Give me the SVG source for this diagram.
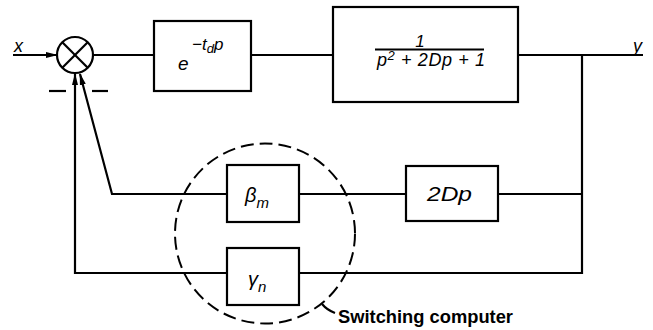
<svg xmlns="http://www.w3.org/2000/svg" width="653" height="330" viewBox="0 0 653 330">
<style>
.b{fill:none;stroke:#000;stroke-width:2.2}
.l{fill:none;stroke:#000;stroke-width:2.2}
.t{font-family:"Liberation Sans",Arial,sans-serif;font-style:italic;fill:#000}
.s{font-family:"Liberation Sans",Arial,sans-serif;font-weight:bold;fill:#000}
</style>
<defs>
<marker id="ah" markerWidth="12" markerHeight="8" refX="11" refY="4" orient="auto" markerUnits="userSpaceOnUse">
<path d="M0,1 L12,4 L0,7 Z" fill="#000"/>
</marker>
</defs>
<rect width="653" height="330" fill="#fff"/>
<g id="connectors">
<line class="l" x1="13" y1="55" x2="57" y2="55" marker-end="url(#ah)"/>
<line class="l" x1="93" y1="55" x2="154" y2="55"/>
<line class="l" x1="251" y1="55" x2="333" y2="55"/>
<line class="l" x1="518" y1="55" x2="643" y2="55"/>
<line class="l" x1="582" y1="55" x2="582" y2="274"/>
<line class="l" x1="582" y1="194" x2="498" y2="194"/>
<line class="l" x1="406" y1="194" x2="299" y2="194"/>
<polyline class="l" points="227,194 112,194 80,74" marker-end="url(#ah)"/>
<line class="l" x1="582" y1="273" x2="299" y2="273"/>
<polyline class="l" points="227,273 75,273 75,74" marker-end="url(#ah)"/>
<line class="l" x1="49" y1="91" x2="66" y2="91"/>
<line class="l" x1="92" y1="91" x2="108" y2="91"/>
<path class="l" d="M322,304 Q327,310 335,313" stroke-width="1.5"/>
</g>
<g id="sum">
<circle class="b" cx="75" cy="55" r="18"/>
<line class="l" x1="62.3" y1="42.3" x2="87.7" y2="67.7"/>
<line class="l" x1="87.7" y1="42.3" x2="62.3" y2="67.7"/>
</g>
<g id="labels">
<text class="t" x="14" y="52" font-size="18">x</text>
<text class="t" x="633" y="52" font-size="18">y</text>
</g>
<g id="delay">
<rect class="b" x="154" y="21" width="97" height="70"/>
<text class="t" x="178" y="70" font-size="19">e</text>
<text class="t" x="192" y="50" font-size="17">−t<tspan font-size="13" dy="3">d</tspan><tspan dy="-3">p</tspan></text>
</g>
<g id="plant">
<rect class="b" x="333" y="7" width="185" height="95"/>
<text class="t" x="420" y="47" font-size="17" text-anchor="middle">1</text>
<line class="l" x1="375" y1="49.5" x2="484" y2="49.5" stroke-width="1.6"/>
<text class="t" x="377" y="66" font-size="18" textLength="108" lengthAdjust="spacing">p<tspan font-size="13" dy="-6">2</tspan><tspan dy="6"> + 2Dp + 1</tspan></text>
</g>
<g id="beta">
<rect class="b" x="227" y="165" width="72" height="57"/>
<text class="t" x="245" y="202" font-size="20">β<tspan font-size="15" dy="6">m</tspan></text>
</g>
<g id="gamma">
<rect class="b" x="227" y="248" width="72" height="57"/>
<text class="t" x="248" y="286" font-size="20">γ<tspan font-size="15" dy="6">n</tspan></text>
</g>
<g id="twoDp">
<rect class="b" x="406" y="166" width="92" height="55"/>
<text class="t" x="427" y="201" font-size="20" textLength="45" lengthAdjust="spacingAndGlyphs">2Dp</text>
</g>
<g id="switching">
<circle cx="265" cy="233.5" r="90" fill="none" stroke="#000" stroke-width="2" stroke-dasharray="13,6"/>
<text class="s" x="338" y="323" font-size="18" textLength="175" lengthAdjust="spacingAndGlyphs">Switching computer</text>
</g>
</svg>
